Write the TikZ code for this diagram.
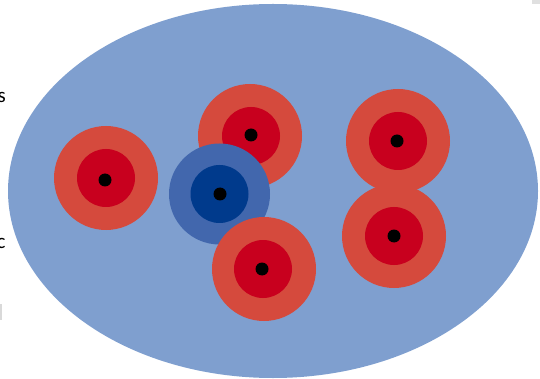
\documentclass[tikz,border=0pt]{standalone}
\usepackage{fontspec}
\setmainfont{Carlito}
\definecolor{field}{RGB}{127,159,207}
\definecolor{ringred}{RGB}{213,74,61}
\definecolor{corered}{RGB}{200,0,30}
\definecolor{ringblue}{RGB}{66,103,173}
\definecolor{coreblue}{RGB}{0,58,140}

\begin{document}
\begin{tikzpicture}[x=1pt, y=-1pt,
        ring/.style={circle, inner sep=0pt, minimum size=104pt, fill=#1},
        core/.style={circle, inner sep=0pt, minimum size=58pt, fill=#1},
        dot/.style={circle, inner sep=0pt, minimum size=13pt, fill=black},
        letter/.style={inner sep=0pt, anchor=base west, font=\fontsize{21}{25}\selectfont}]
        \useasboundingbox (0,0) rectangle (540,379);
        % clipped text at the left edge
        \node[letter] (s) at (-2.5,103) {s};
        \node[letter] (c) at (-3.5,248) {c};
        \fill[black!15] (0,304) rectangle (2,320);
        \fill[black!12] (532,0) rectangle (540,4);
        % field
        \fill[field] (273,191) ellipse [x radius=265, y radius=187];
        % targets
        \node[ring=ringred] (r1) at (106,178) {};
        \node[core=corered] (c1) at (106,178) {};
        \node[dot] (d1) at (105,180) {};
        \node[ring=ringred] (r2) at (250,136) {};
        \node[core=corered] (c2) at (251,136) {};
        \node[dot] (d2) at (251,135) {};
        \node[ring=ringred] (r3) at (398,141) {};
        \node[core=corered] (c3) at (398,141) {};
        \node[dot] (d3) at (397,141) {};
        \node[ring=ringred] (r4) at (394,236) {};
        \node[core=corered] (c4) at (394,236) {};
        \node[dot] (d4) at (394,236) {};
        \node[ring=ringblue, minimum size=101pt] (b1) at (219.5,194) {};
        \node[core=coreblue] (cb) at (219.5,194) {};
        \node[dot] (db) at (220,194) {};
        \node[ring=ringred] (r5) at (264,269) {};
        \node[core=corered] (c5) at (263,269) {};
        \node[dot] (d5) at (262,269) {};
\end{tikzpicture}
\end{document}
